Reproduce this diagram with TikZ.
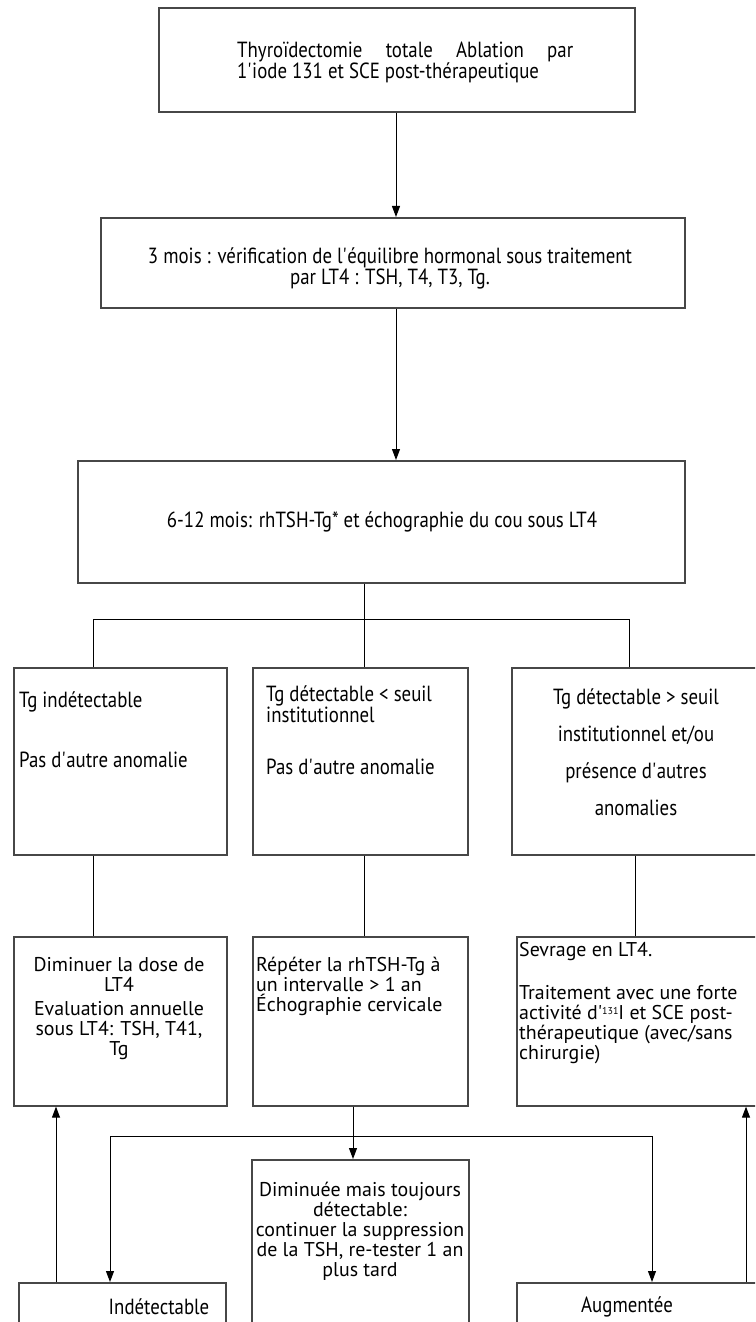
\documentclass[tikz,border=0pt]{standalone}
\usepackage{fontspec}
\setmainfont{PT Sans}[FakeStretch=0.86]
\newfontfamily\smallfont{PT Sans}
\usetikzlibrary{arrows.meta}
\newcommand{\qs}{\textquotesingle}
\newcommand{\supnum}[1]{\raisebox{5bp}{\fontsize{10}{10}\selectfont #1}}
\begin{document}
\begin{tikzpicture}[x=1bp,y=-1bp,
  box/.style={draw=black!72, line width=1.6bp, inner sep=0, anchor=north west},
  lnk/.style={draw=black, line width=1bp},
  arr/.style={lnk, -{Triangle[length=11bp,width=8bp]}},
  big/.style={inner sep=0, font=\fontsize{22}{21}\selectfont},
  small/.style={inner sep=0, font=\smallfont\fontsize{20}{20}\selectfont},
  sparse/.style={inner sep=0, font=\fontsize{22}{37}\selectfont}]
\useasboundingbox (0,0) rectangle (755,1322);
\clip (0,0) rectangle (755,1322);
% boxes
\node[box, minimum width=476bp, minimum height=104bp] (b1) at (158,7) {};
\node[box, minimum width=584bp, minimum height=90bp] (b2) at (100,217) {};
\node[box, minimum width=607bp, minimum height=122bp] (b3) at (77,460) {};
\node[box, minimum width=213bp, minimum height=187bp] (b4) at (13,667) {};
\node[box, minimum width=215bp, minimum height=187bp] (b5) at (252,667) {};
\node[box, minimum width=260bp, minimum height=187bp] (b6) at (511,667) {};
\node[box, minimum width=213bp, minimum height=169bp] (b7) at (13,936) {};
\node[box, minimum width=215bp, minimum height=169bp] (b8) at (252,936) {};
\node[box, minimum width=255bp, minimum height=169bp] (b9) at (516,936) {};
\node[box, minimum width=217bp, minimum height=180bp] (b10) at (251,1159) {};
\node[box, minimum width=207bp, minimum height=60bp] (b11) at (18,1282) {};
\node[box, minimum width=255bp, minimum height=60bp] (b12) at (516,1282) {};
% texts
\node[big, anchor=west, align=left] (t1) at (237,62) {\makebox[336bp][s]{Thyroïdectomie totale Ablation par}\\1\qs iode 131 et SCE post-thérapeutique};
\node[big, align=center] (t2) at (390,268) {3 mois : vérification de l\qs équilibre hormonal sous traitement\\par LT4 : TSH, T4, T3, Tg.};
\node[big] (t3) at (382,522) {6-12 mois: rhTSH-Tg* et échographie du cou sous LT4};
\node[big, anchor=west] (t4a) at (19,702) {Tg indétectable};
\node[big, anchor=west] (t4b) at (19,760) {Pas d\qs autre anomalie};
\node[big, anchor=west, align=left] (t5a) at (266,704) {Tg détectable < seuil\\institutionnel};
\node[big, anchor=west] (t5b) at (266,767) {Pas d\qs autre anomalie};
\node[sparse, align=center] (t6) at (636,752) {Tg détectable > seuil\\institutionnel et/ou\\présence d\qs autres\\anomalies};
\node[small, align=center, anchor=north] (t7) at (119,957) {Diminuer la dose de\\LT4\\[4bp]Evaluation annuelle\\sous LT4: TSH, T41,\\Tg};
\node[small, anchor=north west, align=left] (t8) at (256,957) {Répéter la rhTSH-Tg à\\un intervalle > 1 an\\Échographie cervicale};
\node[small, anchor=north west, align=left] (t9) at (519,942) {Sevrage en LT4.\\[23bp]Traitement avec une forte\\activité d\qs\supnum{131}I et SCE post-\\thérapeutique (avec/sans\\chirurgie)};
\node[small, align=center, anchor=north] (t10) at (360,1182) {Diminuée mais toujours\\détectable:\\continuer la suppression\\de la TSH, re-tester 1 an\\plus tard};
\node[big] (t11) at (159,1307) {Indétectable};
\node[big] (t12) at (627,1307) {Augmentée};
% helper coordinates
\coordinate (X1) at (396,0);
\coordinate (J1) at (364,619);
\coordinate (JL) at (93,619);
\coordinate (JR) at (629,619);
\coordinate (YL) at (93,0);
\coordinate (YM) at (364,0);
\coordinate (YR) at (635,0);
\coordinate (K) at (353,1136);
\coordinate (KL) at (110,0);
\coordinate (KR) at (652,0);
\coordinate (UL) at (56,0);
\coordinate (UR) at (746,0);
% connectors
\draw[arr] (b1.south -| X1) -- (b2.north -| X1);
\draw[arr] (b2.south -| X1) -- (b3.north -| X1);
\draw[lnk] (b3.south -| J1) -- (J1);
\draw[lnk] (b4.north -| JL) -- (JL) -- (JR) -- (b6.north -| JR);
\draw[lnk] (J1) -- (b5.north -| J1);
\draw[lnk] (b4.south -| YL) -- (b7.north -| YL);
\draw[lnk] (b5.south -| YM) -- (b8.north -| YM);
\draw[lnk] (b6.south -| YR) -- (b9.north -| YR);
\draw[arr] (b8.south -| K) -- (b10.north -| K);
\draw[arr] (K) -| (b11.north -| KL);
\draw[arr] (K) -| (b12.north -| KR);
\draw[arr] (b11.north -| UL) -- (b7.south -| UL);
\draw[arr] (b12.north -| UR) -- (b9.south -| UR);
\end{tikzpicture}
\end{document}
